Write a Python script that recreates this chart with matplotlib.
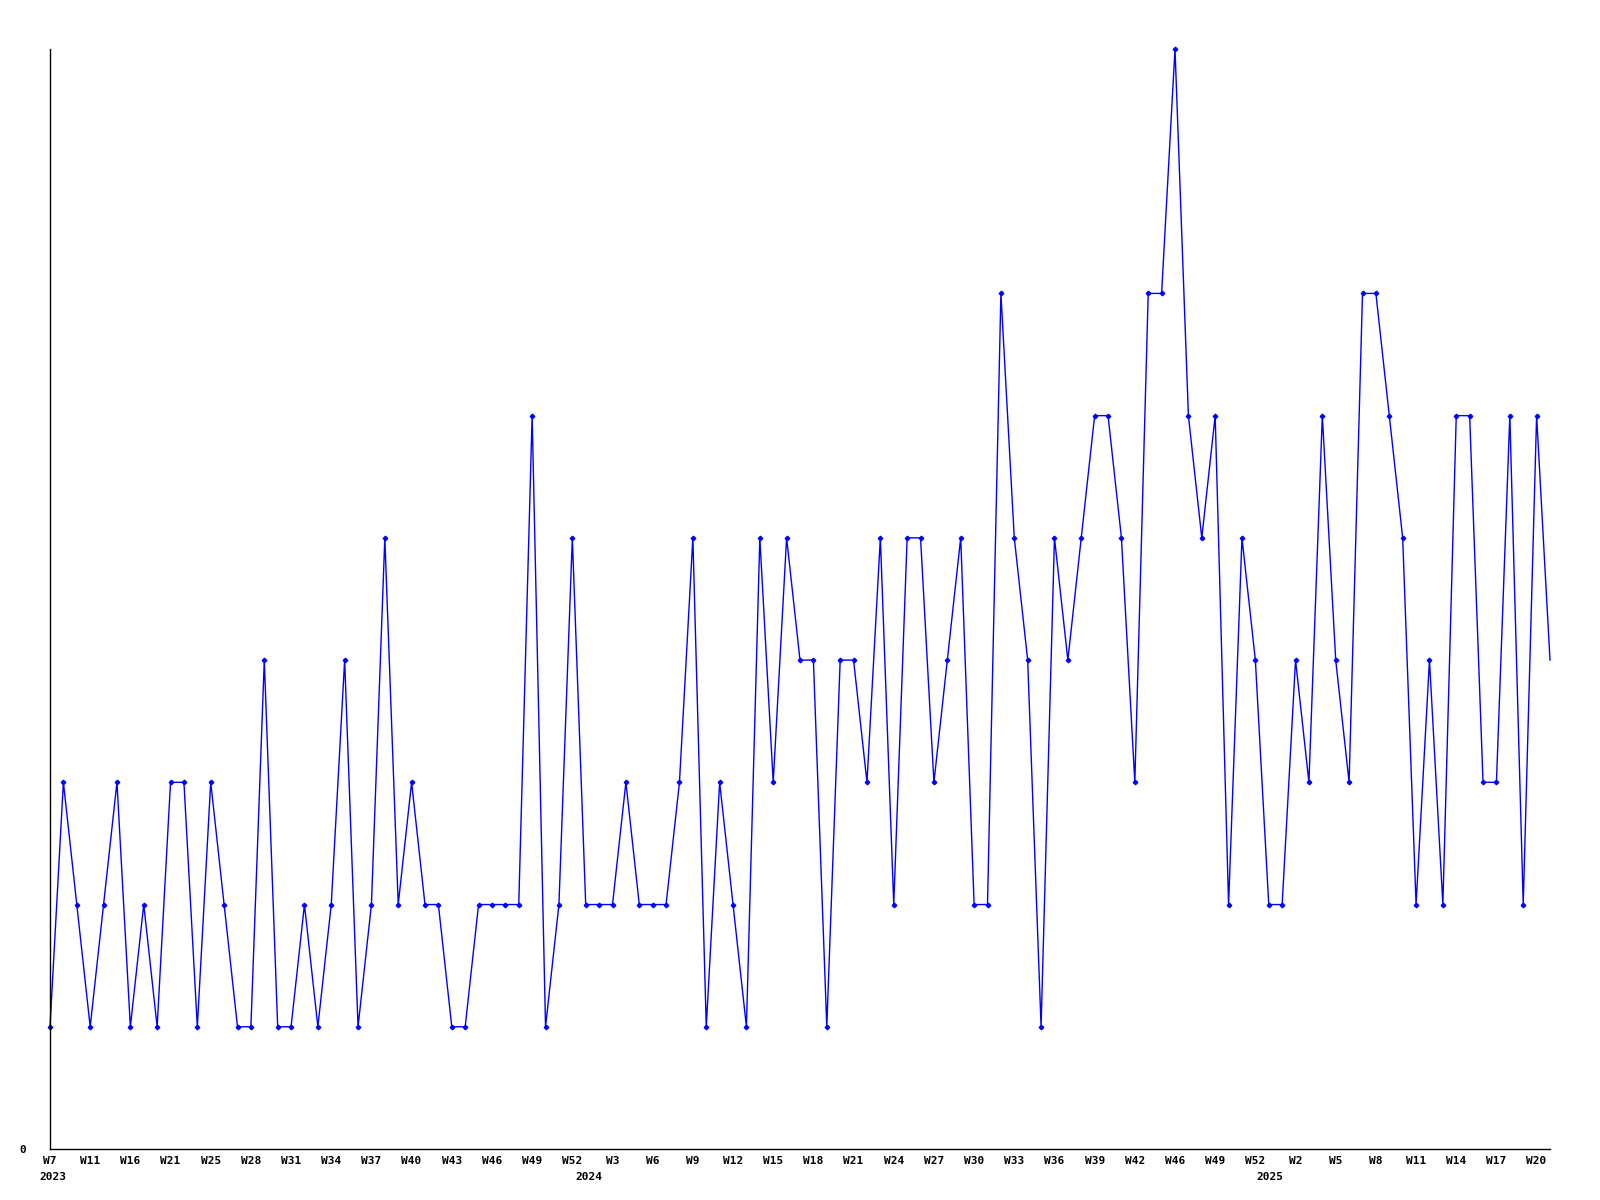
import matplotlib
matplotlib.use('Agg')
import matplotlib.pyplot as plt

# weekly values
values = [1, 3, 2, 1, 2, 3, 1, 2, 1, 3, 3, 1, 3, 2, 1, 1, 4, 1, 1, 2,
          1, 2, 4, 1, 2, 5, 2, 3, 2, 2, 1, 1, 2, 2, 2, 2, 6, 1, 2, 5,
          2, 2, 2, 3, 2, 2, 2, 3, 5, 1, 3, 2, 1, 5, 3, 5, 4, 4, 1, 4,
          4, 3, 5, 2, 5, 5, 3, 4, 5, 2, 2, 7, 5, 4, 1, 5, 4, 5, 6, 6,
          5, 3, 7, 7, 9, 6, 5, 6, 2, 5, 4, 2, 2, 4, 3, 6, 4, 3, 7, 7,
          6, 5, 2, 4, 2, 6, 6, 3, 3, 6, 2, 6, 4]

# x labels, one every 3 points
week_labels = ['W7', 'W11', 'W16', 'W21', 'W25', 'W28', 'W31', 'W34', 'W37',
               'W40', 'W43', 'W46', 'W49', 'W52', 'W3', 'W6', 'W9', 'W12',
               'W15', 'W18', 'W21', 'W24', 'W27', 'W30', 'W33', 'W36', 'W39',
               'W42', 'W46', 'W49', 'W52', 'W2', 'W5', 'W8', 'W11', 'W14',
               'W17', 'W20']
years = ['2023', '2024', '2025']
year_pos = [0.25, 40.2, 91.1]

x = list(range(len(values)))

fig = plt.figure(figsize=(16, 12), dpi=100)
ax = fig.add_axes([0.03125, 0.0425, 0.9375, 0.9167])

ax.plot(x, values, color='#0000ff', linewidth=1.0, marker='D', markersize=2.3,
        markevery=slice(0, len(values) - 1), clip_on=False)

ax.set_xlim(0, len(values) - 1)
ax.set_ylim(0, 9)

for side in ['top', 'right']:
    ax.spines[side].set_visible(False)
for side in ['left', 'bottom']:
    ax.spines[side].set_linewidth(1.0)
    ax.spines[side].set_color('black')

font = dict(family='DejaVu Sans Mono', weight='bold', size=8)

ax.set_yticks([0])
ax.set_yticklabels(['0'], fontdict=font)
ax.tick_params(axis='y', length=0, pad=17)

ax.set_xticks(x[::3][:len(week_labels)])
ax.set_xticklabels(week_labels, fontdict=font)
ax.tick_params(axis='x', length=0, pad=5)

for yr, pos in zip(years, year_pos):
    ax.annotate(yr, xy=(pos, 0), xycoords=('data', 'axes fraction'),
                xytext=(0, -28), textcoords='offset pixels',
                ha='center', va='center', **font)

fig.savefig('out.png', dpi=100)
